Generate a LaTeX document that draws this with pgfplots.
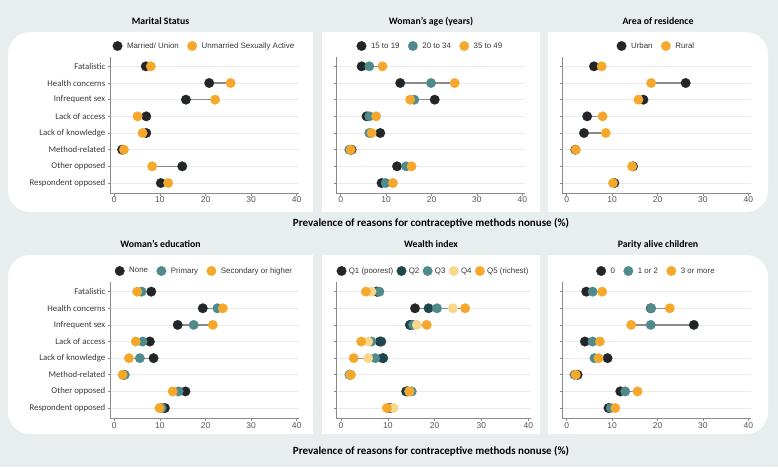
\documentclass[border=0pt]{standalone}
\usepackage{fontspec}
\setmainfont{Carlito}
\newfontfamily\lib{Liberation Sans}
\usepackage{pgfplots}
\usepackage{pgfplotstable}
\pgfplotsset{compat=1.18}

\definecolor{bgcol}{HTML}{E8EEEE}
\definecolor{gridcol}{HTML}{EAEAEA}
\definecolor{axcol}{HTML}{8A8A8A}
\definecolor{conncol}{HTML}{8C8C8C}
\definecolor{labcol}{HTML}{383838}
\definecolor{tickcol}{HTML}{555555}
\definecolor{cblack}{HTML}{222629}
\definecolor{corange}{HTML}{F5A82B}
\definecolor{cteal}{HTML}{4F8A8C}
\definecolor{cdteal}{HTML}{1E474D}
\definecolor{cyellow}{HTML}{F8D68A}

% rows: 1 Fatalistic ... 8 Respondent opposed
\pgfplotstableread{
y a b
1 6.9 8.0
2 20.8 25.5
3 15.7 22.1
4 7.0 5.1
5 7.0 6.2
6 1.7 2.1
7 14.9 8.3
8 10.2 11.8
}\marital
\pgfplotstableread{
y a b c
1 4.6 6.3 9.2
2 13.1 19.9 25.1
3 20.7 16.2 15.3
4 5.7 6.3 7.8
5 8.7 6.3 6.8
6 2.4 1.9 2.2
7 12.4 14.4 15.6
8 9.0 9.9 11.5
}\age
\pgfplotstableread{
y a b
1 6.0 7.7
2 26.2 18.6
3 16.9 15.8
4 4.5 7.9
5 3.8 8.6
6 1.9 2.0
7 14.6 14.4
8 10.5 10.2
}\residence
\pgfplotstableread{
y a b c
1 8.1 6.0 5.0
2 19.4 22.6 23.8
3 13.9 17.4 21.6
4 7.8 6.2 4.7
5 8.6 5.6 3.2
6 2.0 2.3 1.8
7 15.6 14.1 12.8
8 11.1 10.4 9.9
}\education
\pgfplotstableread{
y a b c d e
1 7.6 7.8 8.2 6.5 5.3
2 15.8 18.7 20.5 23.9 26.5
3 14.7 14.9 15.4 16.2 18.3
4 8.3 8.6 6.5 5.8 4.3
5 8.9 9.0 7.3 5.8 2.7
6 2.0 1.9 1.8 2.0 2.1
7 13.9 14.2 15.1 14.6 14.6
8 10.5 10.2 10.3 11.2 9.8
}\wealth
\pgfplotstableread{
y a b c
1 4.3 5.7 7.8
2 18.5 18.6 22.7
3 28.0 18.5 14.2
4 4.0 5.7 7.3
5 9.0 6.1 7.0
6 2.4 1.7 2.0
7 11.8 12.9 15.6
8 9.2 9.7 10.7
}\parity

\pgfplotsset{
  dotax/.style={
    scale only axis, anchor=south west,
    xmin=-0.95, xmax=40.5, y dir=reverse,
    axis x line*=bottom, axis y line*=left,
    axis line style={draw=axcol, line width=0.8pt},
    xtick={0,10,20,30,40}, ytick={1,...,8}, yticklabels={},
    tick align=outside, major tick length=2.5pt,
    tick style={draw=axcol, line width=0.6pt},
    ymajorgrids, grid style={draw=gridcol, line width=0.6pt},
    xticklabel style={font=\lib\fontsize{8.5}{10}\selectfont, text=tickcol, inner sep=1pt},
    /pgf/number format/assume math mode=true,
    legend columns=-1,
    legend style={draw=none, fill=none, at={(0.5,1)}, anchor=center, yshift=11pt,
      font=\lib\fontsize{7.9}{9}\selectfont, text=labcol,
      /tikz/every odd column/.append style={column sep=2.7pt},
      /tikz/every even column/.append style={column sep=6.5pt}},
    legend image code/.code={\draw[##1] plot coordinates {(4.7pt,0pt)};},
  },
  catlabels/.style={
    yticklabels={Fatalistic, Health concerns, Infrequent sex, Lack of access,
      Lack of knowledge, Method-related, Other opposed, Respondent opposed},
    yticklabel style={font=\fontsize{8.8}{10}\selectfont, text=labcol, inner sep=2pt},
  },
  toprow/.style={height=136pt, ymin=0.44, ymax=8.6},
  botrow/.style={height=136.5pt, ymin=0.42, ymax=8.63},
  seg/.style={draw=conncol, line width=1.2pt, forget plot},
  dot/.style={only marks, mark=*, mark size=4.8pt, mark options={fill=#1, draw=#1, line width=0.2pt}},
}

\begin{document}
\begin{tikzpicture}
\begin{scope}[x=1pt,y=1pt]
  \fill[bgcol] (0,0) rectangle (778,467);
  \useasboundingbox (0,0) rectangle (778,467);
  % panels
  \fill[white, rounded corners=22pt] (8,255) rectangle (313,435);
  \fill[white] (160,255) rectangle (313,435);
  \fill[white] (322,255) rectangle (540,435);
  \fill[white, rounded corners=22pt] (548,255) rectangle (768,435);
  \fill[white] (548,255) rectangle (650,435);
  \fill[white, rounded corners=22pt] (8,33) rectangle (313,212);
  \fill[white] (160,33) rectangle (313,212);
  \fill[white] (322,33) rectangle (540,212);
  \fill[white, rounded corners=22pt] (548,33) rectangle (768,212);
  \fill[white] (548,33) rectangle (650,212);
  % titles
  \begin{scope}[every node/.style={anchor=base, font=\bfseries\fontsize{9.8}{11}\selectfont, text=black}]
    \node at (160.5,442.7) {Marital Status};
    \node at (431,442.7) {Woman’s age (years)};
    \node at (658,442.7) {Area of residence};
    \node at (160.5,219.7) {Woman’s education};
    \node at (431,219.7) {Wealth index};
    \node at (658,219.7) {Parity alive children};
    \node[font=\bfseries\fontsize{11}{13}\selectfont] at (431,240.5) {Prevalence of reasons for contraceptive methods nonuse (\%)};
    \node[font=\bfseries\fontsize{11}{13}\selectfont] at (431,13) {Prevalence of reasons for contraceptive methods nonuse (\%)};
  \end{scope}
\end{scope}

% Marital status
\begin{axis}[dotax, toprow, catlabels, at={(110pt,274pt)}, width=189pt]
\addplot[seg, quiver={u=\thisrow{b}-\thisrow{a}, v=0}] table[x=a,y=y]{\marital};
\addplot[dot=cblack] table[x=a,y=y]{\marital}; \addlegendentry{Married/ Union}
\addplot[dot=corange] table[x=b,y=y]{\marital}; \addlegendentry{Unmarried Sexually Active}
\end{axis}

% Age
\begin{axis}[dotax, toprow, at={(336.4pt,274pt)}, width=188.2pt]
\addplot[seg, quiver={u=\thisrow{b}-\thisrow{a}, v=0}] table[x=a,y=y]{\age};
\addplot[seg, quiver={u=\thisrow{c}-\thisrow{b}, v=0}] table[x=b,y=y]{\age};
\addplot[dot=cblack] table[x=a,y=y]{\age}; \addlegendentry{15 to 19}
\addplot[dot=cteal] table[x=b,y=y]{\age}; \addlegendentry{20 to 34}
\addplot[dot=corange] table[x=c,y=y]{\age}; \addlegendentry{35 to 49}
\end{axis}

% Residence
\begin{axis}[dotax, toprow, at={(562.4pt,274pt)}, width=188.2pt]
\addplot[seg, quiver={u=\thisrow{b}-\thisrow{a}, v=0}] table[x=a,y=y]{\residence};
\addplot[dot=cblack] table[x=a,y=y]{\residence}; \addlegendentry{Urban}
\addplot[dot=corange] table[x=b,y=y]{\residence}; \addlegendentry{Rural}
\end{axis}

% Education
\begin{axis}[dotax, botrow, catlabels, at={(110pt,48.5pt)}, width=189pt]
\addplot[seg, quiver={u=\thisrow{b}-\thisrow{a}, v=0}] table[x=a,y=y]{\education};
\addplot[seg, quiver={u=\thisrow{c}-\thisrow{b}, v=0}] table[x=b,y=y]{\education};
\addplot[dot=cblack] table[x=a,y=y]{\education}; \addlegendentry{None}
\addplot[dot=cteal] table[x=b,y=y]{\education}; \addlegendentry{Primary}
\addplot[dot=corange] table[x=c,y=y]{\education}; \addlegendentry{Secondary or higher}
\end{axis}

% Wealth
\begin{axis}[dotax, botrow, at={(336.6pt,48.5pt)}, width=194pt,
  legend style={/tikz/every odd column/.append style={column sep=0.5pt},
    /tikz/every even column/.append style={column sep=1.5pt}}]
\addplot[seg, quiver={u=\thisrow{b}-\thisrow{a}, v=0}] table[x=a,y=y]{\wealth};
\addplot[seg, quiver={u=\thisrow{c}-\thisrow{b}, v=0}] table[x=b,y=y]{\wealth};
\addplot[seg, quiver={u=\thisrow{d}-\thisrow{c}, v=0}] table[x=c,y=y]{\wealth};
\addplot[seg, quiver={u=\thisrow{e}-\thisrow{d}, v=0}] table[x=d,y=y]{\wealth};
\addplot[dot=cblack] table[x=a,y=y]{\wealth}; \addlegendentry{Q1 (poorest)}
\addplot[dot=cdteal] table[x=b,y=y]{\wealth}; \addlegendentry{Q2}
\addplot[dot=cteal] table[x=c,y=y]{\wealth}; \addlegendentry{Q3}
\addplot[dot=cyellow] table[x=d,y=y]{\wealth}; \addlegendentry{Q4}
\addplot[dot=corange] table[x=e,y=y]{\wealth}; \addlegendentry{Q5 (richest)}
\end{axis}

% Parity
\begin{axis}[dotax, botrow, at={(562.4pt,48.5pt)}, width=188.2pt]
\addplot[seg, quiver={u=\thisrow{b}-\thisrow{a}, v=0}] table[x=a,y=y]{\parity};
\addplot[seg, quiver={u=\thisrow{c}-\thisrow{b}, v=0}] table[x=b,y=y]{\parity};
\addplot[dot=cblack] table[x=a,y=y]{\parity}; \addlegendentry{0}
\addplot[dot=cteal] table[x=b,y=y]{\parity}; \addlegendentry{1 or 2}
\addplot[dot=corange] table[x=c,y=y]{\parity}; \addlegendentry{3 or more}
\end{axis}
\end{tikzpicture}
\end{document}
